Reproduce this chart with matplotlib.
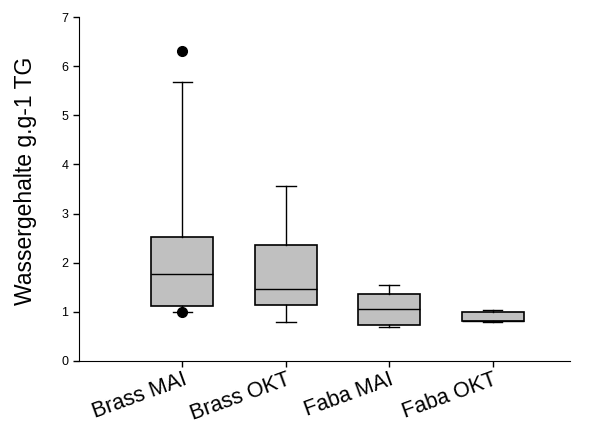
import matplotlib
matplotlib.use("Agg")
import matplotlib.pyplot as plt

plt.rcParams['font.family'] = ['Liberation Sans', 'DejaVu Sans']

# Box statistics for water content (g/g dry weight)
categories = ["Brass MAI", "Brass OKT", "Faba MAI", "Faba OKT"]
whisker_low = [1.00, 0.80, 0.69, 0.79]
q1 = [1.12, 1.14, 0.73, 0.82]
median = [1.78, 1.46, 1.06, 0.82]
q3 = [2.52, 2.37, 1.36, 1.00]
whisker_high = [5.67, 3.57, 1.54, 1.04]
outliers = [[6.31, 1.00], [], [], []]

yticks = [0, 1, 2, 3, 4, 5, 6, 7]

stats = []
for i, name in enumerate(categories):
    stats.append(dict(label=name, whislo=whisker_low[i], q1=q1[i], med=median[i],
                      q3=q3[i], whishi=whisker_high[i], fliers=outliers[i]))

fig = plt.figure(figsize=(5.92, 4.25), dpi=100)
ax = fig.add_axes([0.1334, 0.1506, 0.8296, 0.8094])

positions = list(range(1, len(categories) + 1))
ax.bxp(stats, positions=positions, widths=0.6, capwidths=0.19, patch_artist=True,
       boxprops=dict(facecolor="#c0c0c0", edgecolor="black", linewidth=1.2),
       medianprops=dict(color="black", linewidth=1.0),
       whiskerprops=dict(color="black", linewidth=1.0),
       capprops=dict(color="black", linewidth=1.0),
       flierprops=dict(marker="o", markerfacecolor="black", markeredgecolor="black",
                       markersize=7))

ax.set_xlim(0, 4.75)
ax.set_ylim(0, 7)
ax.set_yticks(yticks)
ax.set_yticklabels([str(t) for t in yticks], fontsize=9)
ax.set_xticks(positions)
ax.set_xticklabels(categories, fontsize=15.5, rotation=20, ha="right",
                   rotation_mode="anchor")
ax.tick_params(axis="both", direction="out", length=4, width=1)
ax.tick_params(axis="x", pad=2)
ax.spines["top"].set_visible(False)
ax.spines["right"].set_visible(False)
ax.set_ylabel("Wassergehalte g.g-1 TG", fontsize=16.5)
ax.yaxis.set_label_coords(-0.086, 0.523)

fig.savefig("out.png", dpi=100)
